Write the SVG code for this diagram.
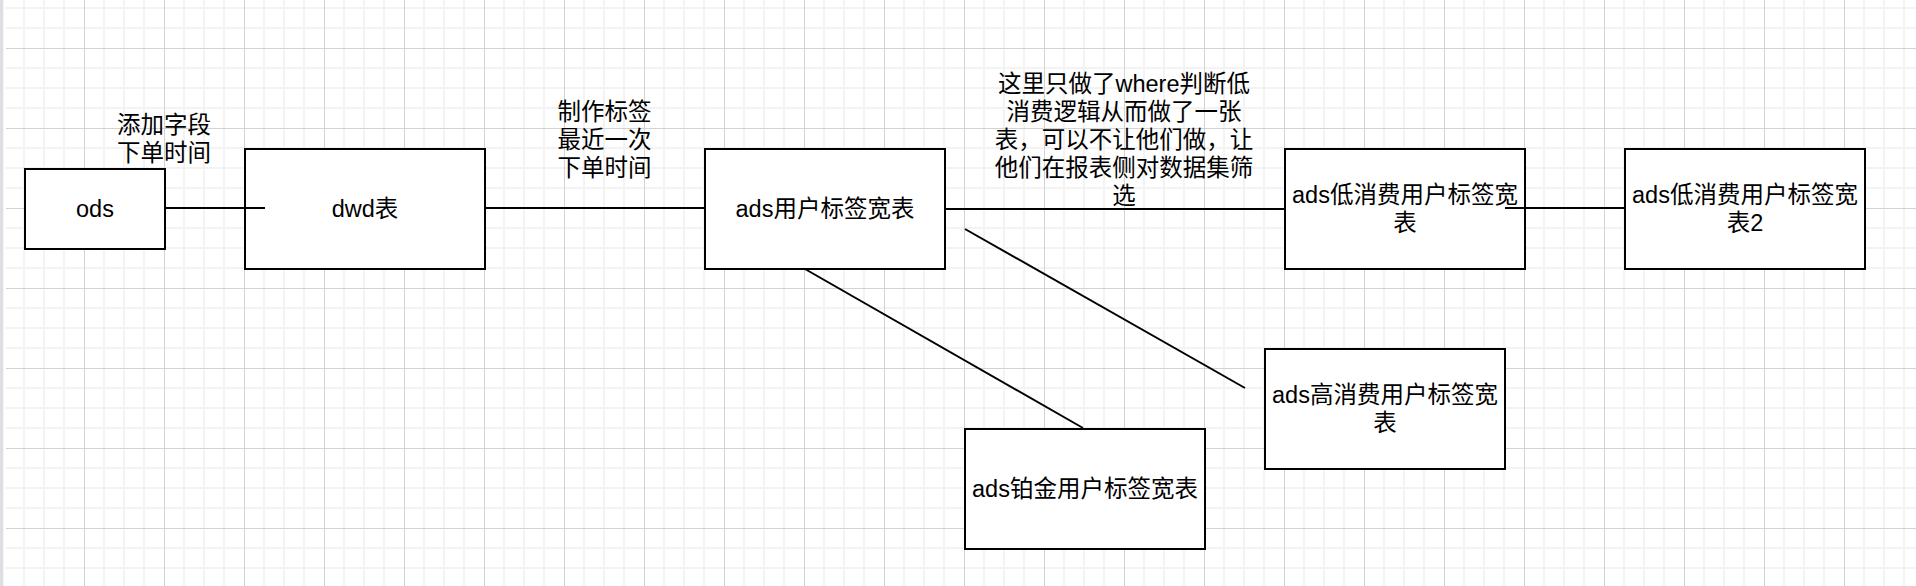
<svg xmlns="http://www.w3.org/2000/svg" width="1916" height="586" viewBox="0 0 1916 586">
<style>
.node rect{fill:#ffffff;stroke:#000000;stroke-width:2}
.node text,.label text{font-family:"Liberation Sans","Noto Sans CJK SC",sans-serif;font-size:23.5px;fill:#000000;text-anchor:middle;dominant-baseline:central}
.conn path{fill:none;stroke:#000000;stroke-width:2}
</style>
<defs>
<pattern id="grid" x="0" y="0" width="80" height="80" patternUnits="userSpaceOnUse">
<path d="M24 0V80M44 0V80M64 0V80M0 8H80M0 28H80M0 68H80" stroke="#f3f3f3" stroke-width="2" fill="none"/>
<path d="M4.5 0V80M0 48.5H80" stroke="#d3d3d3" stroke-width="1" fill="none"/>
</pattern>
</defs>
<rect x="0" y="0" width="1916" height="586" fill="#ffffff"/>
<rect x="0" y="0" width="1916" height="586" fill="url(#grid)"/>
<rect x="0" y="0" width="6" height="586" fill="#ffffff"/>
<rect x="0" y="0" width="3.3" height="586" fill="#dfdfe3"/>

<g id="label-ods-dwd" class="label">
<text x="164" y="124.5">添加字段</text>
<text x="164" y="152.5">下单时间</text>
</g>
<g id="label-dwd-ads" class="label">
<text x="604.5" y="112">制作标签</text>
<text x="604.5" y="140">最近一次</text>
<text x="604.5" y="168">下单时间</text>
</g>
<g id="label-ads-low" class="label">
<text x="1124" y="84">这里只做了where判断低</text>
<text x="1124" y="112">消费逻辑从而做了一张</text>
<text x="1124" y="140">表，可以不让他们做，让</text>
<text x="1124" y="168">他们在报表侧对数据集筛</text>
<text x="1124" y="196">选</text>
</g>

<g id="node-ods" class="node">
<rect x="25" y="169" width="140" height="80"/>
<text x="95" y="209">ods</text>
</g>
<g id="node-dwd" class="node">
<rect x="245" y="149" width="240" height="120"/>
<text x="365" y="209">dwd表</text>
</g>
<g id="node-ads" class="node">
<rect x="705" y="149" width="240" height="120"/>
<text x="825" y="209">ads用户标签宽表</text>
</g>
<g id="node-ads-low" class="node">
<rect x="1285" y="149" width="240" height="120"/>
<text x="1405" y="195">ads低消费用户标签宽</text>
<text x="1405" y="223">表</text>
</g>
<g id="node-ads-low2" class="node">
<rect x="1625" y="149" width="240" height="120"/>
<text x="1745" y="195">ads低消费用户标签宽</text>
<text x="1745" y="223">表2</text>
</g>
<g id="node-ads-high" class="node">
<rect x="1265" y="349" width="240" height="120"/>
<text x="1385" y="395">ads高消费用户标签宽</text>
<text x="1385" y="423">表</text>
</g>
<g id="node-ads-plat" class="node">
<rect x="965" y="429" width="240" height="120"/>
<text x="1085" y="489">ads铂金用户标签宽表</text>
</g>

<g id="connectors" class="conn">
<path d="M165 208H265"/>
<path d="M485 208H705"/>
<path d="M945 209H1285"/>
<path d="M1505 208H1625"/>
<path d="M805 269L1083 428"/>
<path d="M965 229L1245 388"/>
</g>
</svg>
